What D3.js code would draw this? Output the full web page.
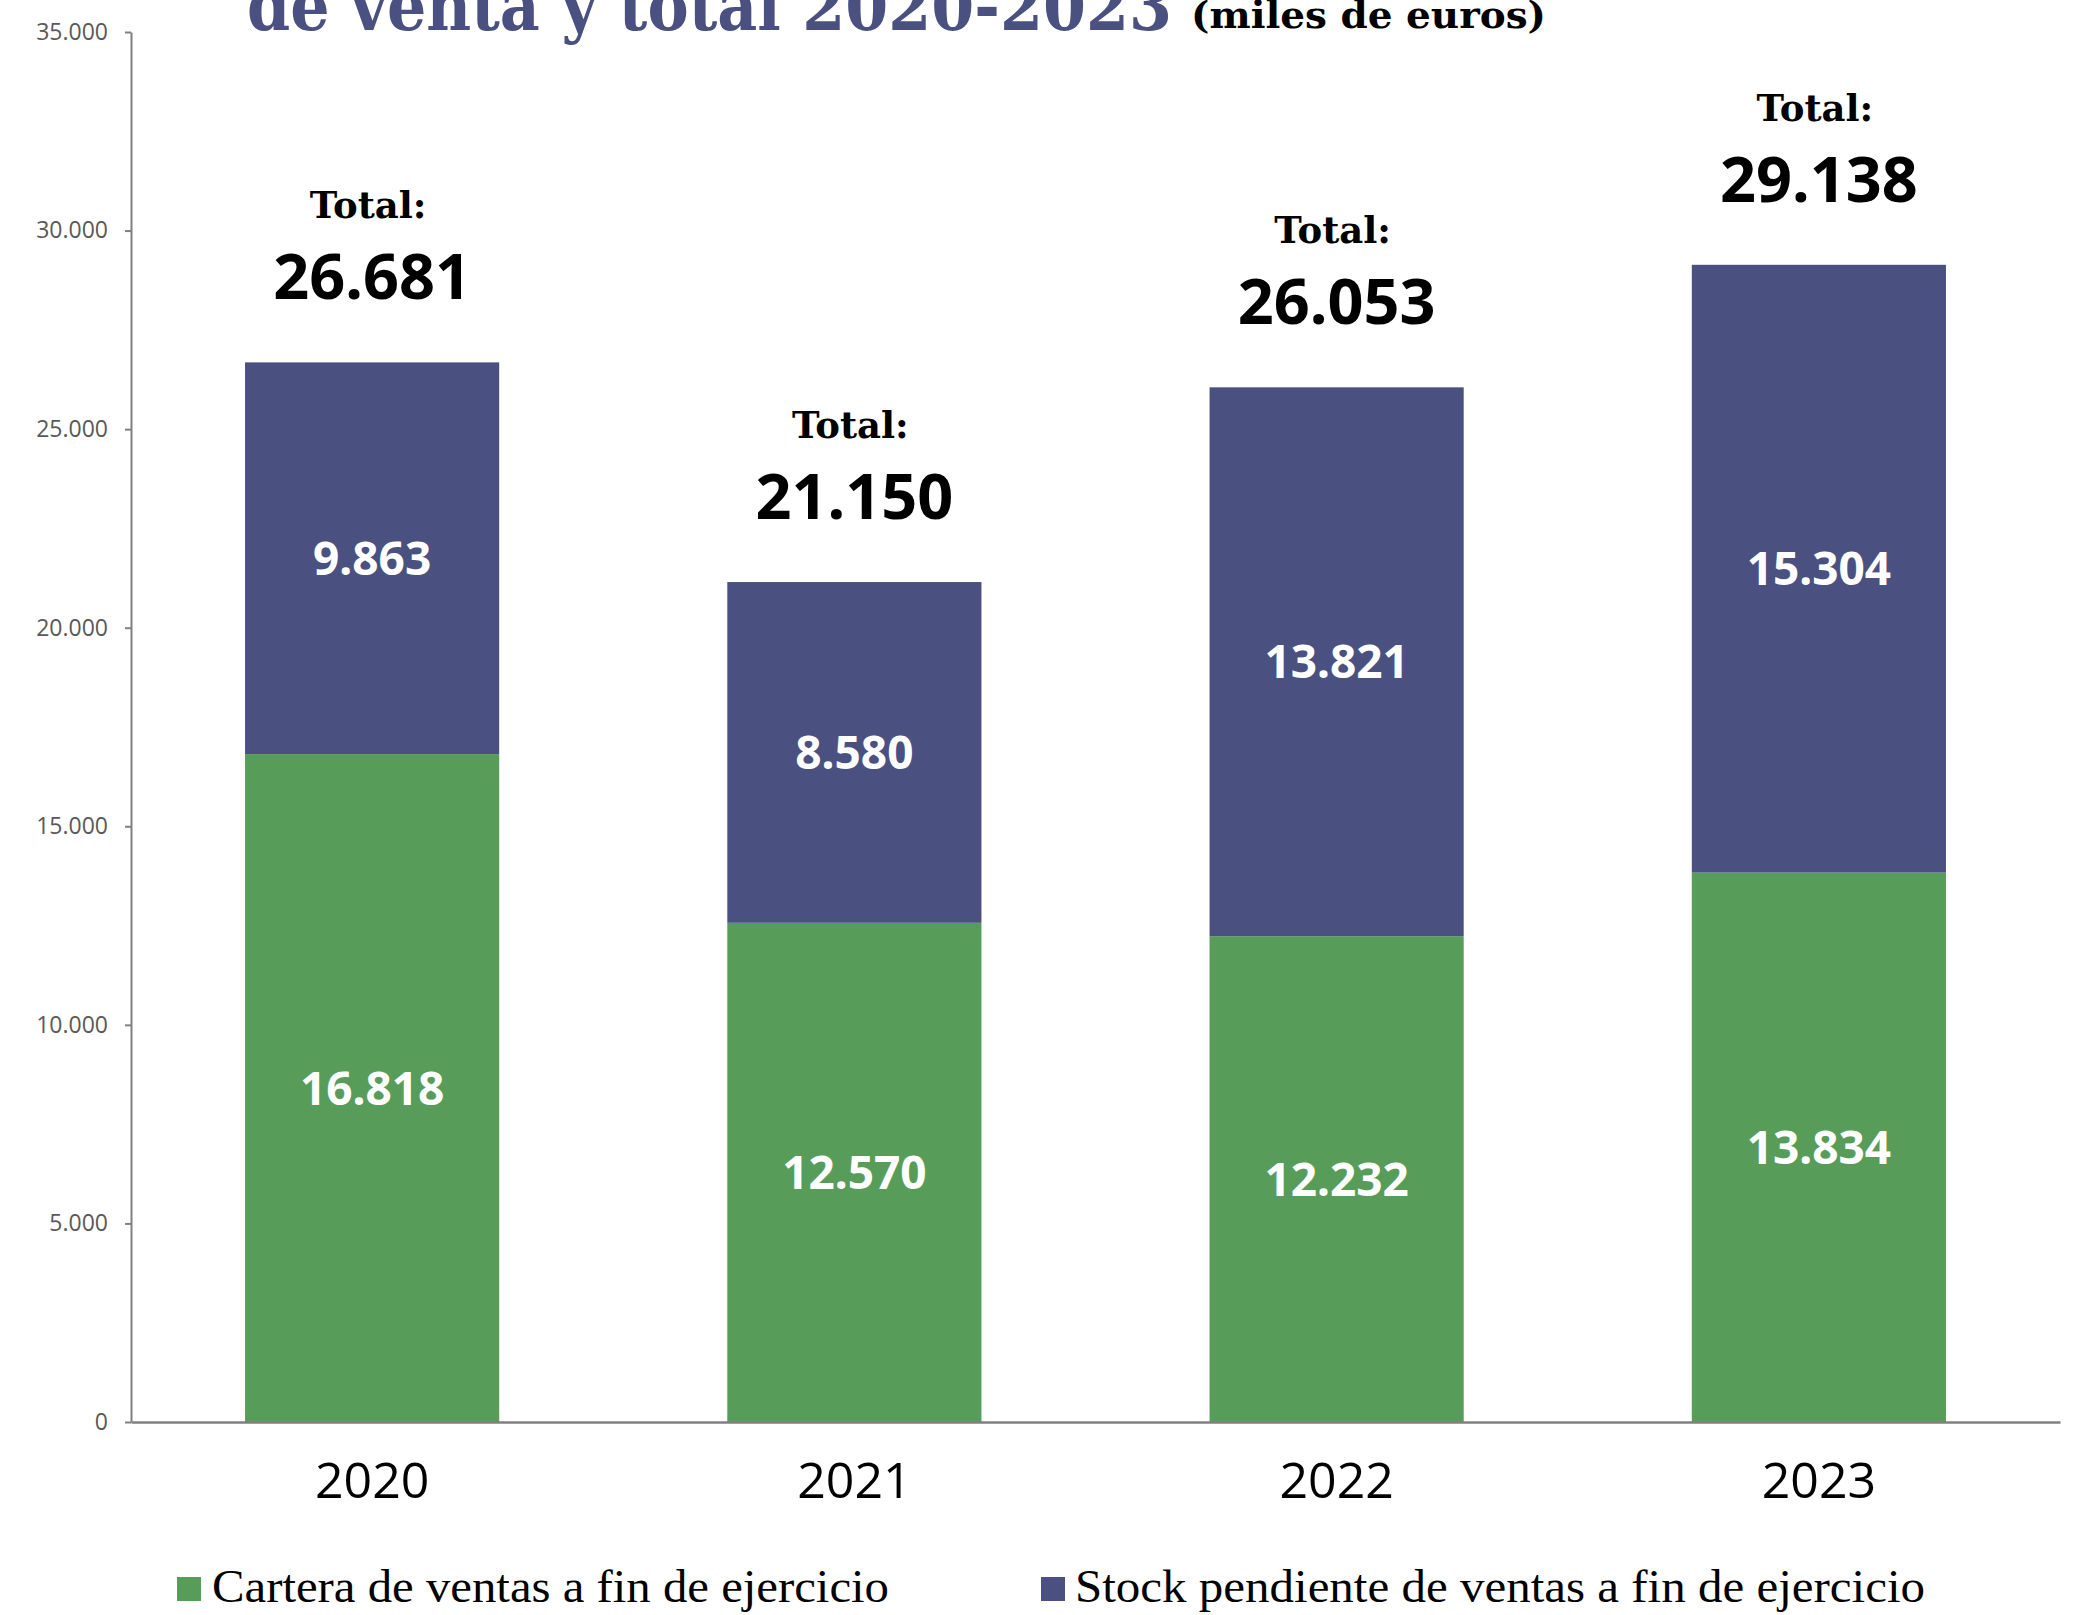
<!DOCTYPE html>
<html>
<head>
<meta charset="utf-8">
<script src="https://cdn.jsdelivr.net/npm/d3@7"></script>
<style>
  body { margin: 0; background: #fff; }
  svg { display: block; }
</style>
</head>
<body>
<div id="my_dataviz"></div>
<script>
// data (miles de euros)
var years = ["2020", "2021", "2022", "2023"];
var cartera = [16818, 12570, 12232, 13834];
var stock = [9863, 8580, 13821, 15304];
var yTicks = [0, 5000, 10000, 15000, 20000, 25000, 30000, 35000];
var seriesNames = ["Cartera de ventas a fin de ejercicio", "Stock pendiente de ventas a fin de ejercicio"];

var green = "#589C5A", blue = "#4A5080";

var W = 2074, H = 1615;
var margin = {top: 32, left: 131, right: 14, bottom: 193};

var es = d3.formatLocale({decimal: ",", thousands: ".", grouping: [3], currency: ["", " €"]});
var fmt = es.format(",d");

var rows = years.map(function(y, i) {
  return {year: y, cartera: cartera[i], stock: stock[i], total: cartera[i] + stock[i]};
});

var svg = d3.select("#my_dataviz")
  .append("svg")
    .attr("width", W)
    .attr("height", H);

var x = d3.scaleBand()
  .domain(years)
  .range([margin.left, W - margin.right])
  .paddingInner(0.473)
  .paddingOuter(0.2365);

var y = d3.scaleLinear()
  .domain([0, 35000])
  .range([H - margin.bottom, margin.top]);

// title (cut off at the top in the original)
svg.append("text")
  .attr("x", 247)
  .attr("y", 30)
  .attr("textLength", 925)
  .attr("lengthAdjust", "spacingAndGlyphs")
  .style("font-family", "'DejaVu Serif', serif")
  .style("font-weight", "bold")
  .style("font-size", "70px")
  .style("fill", blue)
  .text("de venta y total 2020-2023");

svg.append("text")
  .attr("x", 1191)
  .attr("y", 28)
  .attr("textLength", 355)
  .attr("lengthAdjust", "spacingAndGlyphs")
  .style("font-family", "'DejaVu Serif', serif")
  .style("font-weight", "bold")
  .style("font-size", "38px")
  .style("fill", "#000")
  .text("(miles de euros)");

// y axis
var yAxis = svg.append("g")
  .attr("transform", "translate(" + margin.left + ",0)")
  .call(d3.axisLeft(y).tickValues(yTicks).tickSize(6).tickSizeOuter(0).tickPadding(17).tickFormat(fmt));
yAxis.select(".domain").attr("stroke", "#808080").attr("stroke-width", 2);
yAxis.selectAll(".tick line").attr("stroke", "#808080").attr("stroke-width", 2);
yAxis.selectAll(".tick text")
  .style("font-family", "'Open Sans', sans-serif")
  .style("font-size", "23px")
  .style("fill", "#595959");

// stacked bars
var stacked = d3.stack().keys(["cartera", "stock"])(rows);
var colors = [green, blue];

var layers = svg.selectAll("g.layer")
  .data(stacked)
  .enter()
  .append("g")
    .attr("class", "layer")
    .attr("fill", function(d, i) { return colors[i]; });

layers.selectAll("rect")
  .data(function(d) { return d; })
  .enter()
  .append("rect")
    .attr("x", function(d) { return x(d.data.year); })
    .attr("width", x.bandwidth())
    .attr("y", function(d) { return y(d[1]); })
    .attr("height", function(d) { return y(d[0]) - y(d[1]); });

// values inside the segments
layers.selectAll("text")
  .data(function(d) { return d.map(function(p) { return {p: p, key: d.key}; }); })
  .enter()
  .append("text")
    .attr("x", function(d) { return x(d.p.data.year) + x.bandwidth() / 2; })
    .attr("y", function(d) { return (y(d.p[0]) + y(d.p[1])) / 2; })
    .attr("dy", "0.36em")
    .attr("text-anchor", "middle")
    .style("font-family", "'Noto Sans', sans-serif")
    .style("font-weight", "bold")
    .style("font-size", "46px")
    .style("fill", "#fff")
    .text(function(d) { return fmt(d.p.data[d.key]); });

// x axis
var xAxis = svg.append("g")
  .attr("transform", "translate(0," + y(0) + ")")
  .call(d3.axisBottom(x).tickSize(0).tickSizeOuter(0).tickPadding(40));
xAxis.select(".domain").attr("stroke", "#808080").attr("stroke-width", 2.5);
xAxis.selectAll(".tick text")
  .style("font-family", "'Open Sans', sans-serif")
  .style("font-size", "50px")
  .style("fill", "#000");

// totals above the bars
var totals = svg.selectAll("g.total")
  .data(rows)
  .enter()
  .append("g")
    .attr("class", "total")
    .attr("transform", function(d) { return "translate(" + (x(d.year) + x.bandwidth() / 2) + "," + y(d.total) + ")"; });

totals.append("text")
  .attr("x", -4)
  .attr("y", -144)
  .attr("text-anchor", "middle")
  .style("font-family", "'DejaVu Serif', serif")
  .style("font-weight", "bold")
  .style("font-size", "37px")
  .text("Total:");

totals.append("text")
  .attr("y", -63)
  .attr("text-anchor", "middle")
  .style("font-family", "'Noto Sans', sans-serif")
  .style("font-weight", "bold")
  .style("font-size", "63px")
  .text(function(d) { return fmt(d.total); });

// legend
var legendPos = [{sx: 177, tx: 212, w: 677}, {sx: 1041, tx: 1075, w: 850}];
var legend = svg.selectAll("g.legend")
  .data(seriesNames)
  .enter()
  .append("g")
    .attr("class", "legend");

legend.append("rect")
  .attr("x", function(d, i) { return legendPos[i].sx; })
  .attr("y", 1577)
  .attr("width", 24)
  .attr("height", 24)
  .attr("fill", function(d, i) { return colors[i]; });

legend.append("text")
  .attr("x", function(d, i) { return legendPos[i].tx; })
  .attr("y", 1602)
  .attr("textLength", function(d, i) { return legendPos[i].w; })
  .attr("lengthAdjust", "spacingAndGlyphs")
  .style("font-family", "'Liberation Serif', serif")
  .style("font-size", "46px")
  .style("fill", "#000")
  .text(function(d) { return d; });
</script>
</body>
</html>
